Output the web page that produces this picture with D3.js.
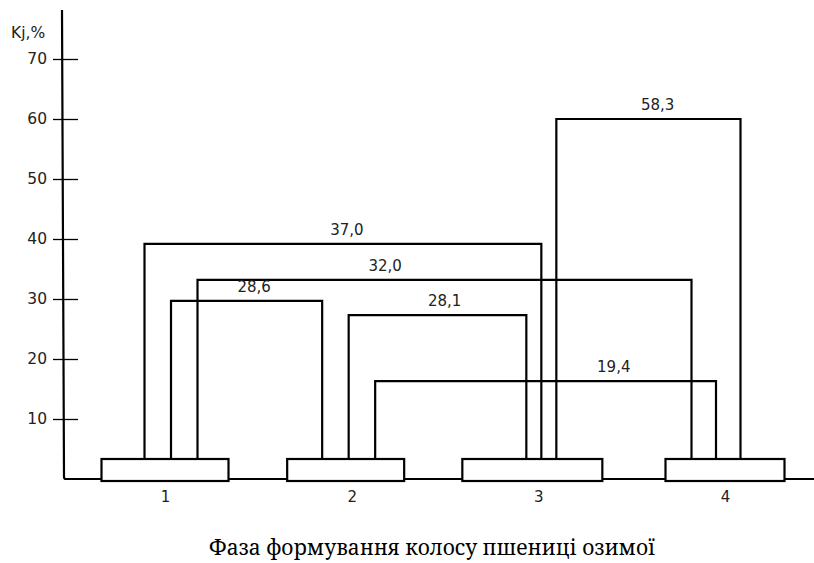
<!DOCTYPE html>
<html>
<head>
<meta charset="utf-8">
<script src="https://cdn.jsdelivr.net/npm/d3@7"></script>
<style>
  html, body { margin: 0; padding: 0; background: #fff; }
  svg { display: block; }
</style>
</head>
<body>
<svg id="chart" width="814" height="563"></svg>
<script>
// ---- data ----
const clusters = ["1", "2", "3", "4"];
const yTicks = [10, 20, 30, 40, 50, 60, 70];
const yLabel = "Kj,%";
const title = "Фаза формування колосу пшениці озимої";

// links between clusters (as drawn in the picture)
const linkLabels = ["37,0", "32,0", "28,6", "28,1", "19,4", "58,3"];
const linkFrom   = ["1", "1", "1", "2", "2", "3"];
const linkTo     = ["3", "4", "2", "3", "4", "4"];
const linkLevel  = [39.2, 33.2, 29.7, 27.3, 16.3, 60.0]; // height
const fromSlot   = [0, 2, 1, 1, 2, 2];
const toSlot     = [1, 0, 0, 0, 1, 2];

// ---- layout / style ----
const W = 814, H = 563;
const axisX = 63;
const baseY = 479;
const slotSpread = [26.5, 26.5, 15, 24.5];
const slotShift = [6, -3, 3, -9];
const labelFrac = [0.51, 0.38, 0.55, 0.54, 0.70, 0.55];
const boxW = [127, 117, 140, 119];
const boxShift = [0, -6, -6, 0];
const boxH = 20;
const sansFont = "'DejaVu Sans', sans-serif";

const svg = d3.select("#chart");

const y = d3.scaleLinear().domain([0, 70]).range([baseY, 59]);
const x = d3.scalePoint().domain(clusters).range([165, 725]);

function slotX(c, s) {
  const i = clusters.indexOf(c);
  return x(c) + slotShift[i] + (s - 1) * slotSpread[i];
}

// axes frame
svg.append("path")
  .attr("d", `M${axisX - 1},10 L${axisX + 1},${baseY - 2} Q${axisX + 1},${baseY} ${axisX + 3},${baseY} L${W},${baseY}`)
  .attr("fill", "none").attr("stroke", "#000").attr("stroke-width", 2.2);

// y axis ticks
const yAxis = d3.axisLeft(y).tickValues(yTicks).tickSize(10).tickPadding(6).tickFormat(d3.format("d"));
const gy = svg.append("g").attr("transform", `translate(${axisX},0)`).call(yAxis);
gy.select(".domain").remove();
gy.selectAll(".tick line").attr("x1", -10).attr("x2", 15).attr("stroke", "#000").attr("stroke-width", 1.3);
gy.selectAll(".tick text")
  .attr("font-family", sansFont).attr("font-size", 15.5).attr("fill", "#222");

svg.append("text")
  .attr("x", 11).attr("y", 38)
  .attr("font-family", sansFont).attr("font-size", 15.5).attr("fill", "#222")
  .text(yLabel);

// links
const links = linkLabels.map((lab, i) => ({
  lab, level: linkLevel[i],
  x1: slotX(linkFrom[i], fromSlot[i]),
  x2: slotX(linkTo[i], toSlot[i]),
  frac: labelFrac[i]
}));
const boxTop = baseY - boxH;

svg.append("g").selectAll("path").data(links).join("path")
  .attr("d", d => `M${d.x1},${boxTop} L${d.x1},${y(d.level)} L${d.x2},${y(d.level)} L${d.x2},${boxTop}`)
  .attr("fill", "none").attr("stroke", "#000").attr("stroke-width", 2.2);

svg.append("g").selectAll("text").data(links).join("text")
  .attr("x", d => d.x1 + (d.x2 - d.x1) * d.frac)
  .attr("y", d => y(d.level) - 9)
  .attr("text-anchor", "middle")
  .attr("font-family", sansFont).attr("font-size", 15).attr("fill", "#222")
  .text(d => d.lab);

// cluster boxes
svg.append("g").selectAll("rect").data(clusters).join("rect")
  .attr("x", (d, i) => x(d) + boxShift[i] - boxW[i] / 2)
  .attr("y", boxTop)
  .attr("width", (d, i) => boxW[i]).attr("height", boxH + 2)
  .attr("fill", "#fff").attr("stroke", "#000").attr("stroke-width", 2.2);

// cluster labels
const xAxis = d3.axisBottom(x).tickSize(0).tickPadding(10);
const gx = svg.append("g").attr("transform", `translate(0,${baseY + 2})`).call(xAxis);
gx.select(".domain").remove();
gx.selectAll(".tick text").attr("font-family", sansFont).attr("font-size", 15).attr("fill", "#222");

// title
svg.append("text")
  .attr("x", 432).attr("y", 555)
  .attr("text-anchor", "middle")
  .style("font-family", "'Noto Serif', serif")
  .style("font-size", "21px").attr("fill", "#000")
  .text(title);
</script>
</body>
</html>
